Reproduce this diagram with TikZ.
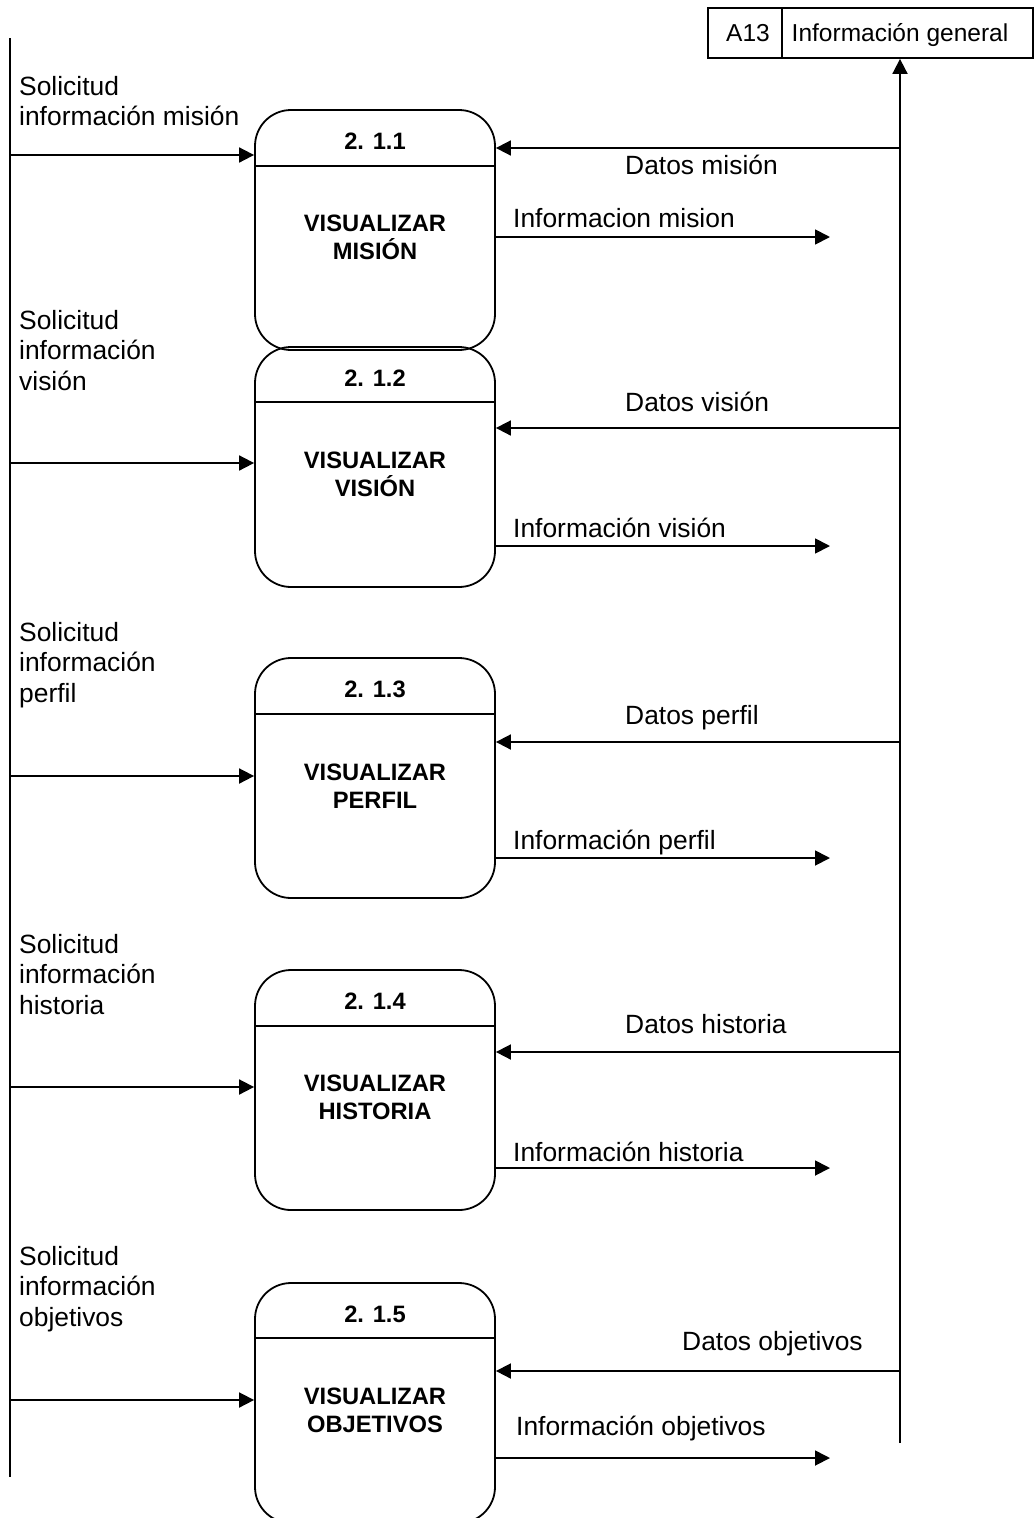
\documentclass[tikz,border=0pt]{standalone}
\usepackage{fontspec}
\setmainfont{Liberation Sans}
\usetikzlibrary{arrows.meta}
\tikzset{
  ln/.style={line width=1.8pt},
  arr/.style={ln, -{Triangle[length=15pt,width=15pt]}},
  proc/.style={ln, draw, rounded corners=36pt, minimum width=240pt, minimum height=240pt, inner sep=0pt},
  store/.style={ln, draw, minimum height=50pt, inner sep=0pt},
  storetext/.style={inner sep=0pt, anchor=base, font=\fontsize{24.5}{29}\selectfont},
  lbl/.style={inner sep=0pt, anchor=base west, align=left, font=\fontsize{26.4}{30.5}\selectfont},
  ptitle/.style={inner sep=0pt, anchor=base, font=\fontsize{23.7}{27.5}\selectfont\bfseries},
  pbody/.style={inner sep=0pt, anchor=base, align=center, font=\fontsize{23.7}{27.7}\selectfont\bfseries},
}
\begin{document}
\begin{tikzpicture}[x=1pt,y=-1pt]
\useasboundingbox (0,0) rectangle (1034,1518);
\clip (0,0) rectangle (1034,1518);

% data store
\node[store, minimum width=74pt] (s1) at (745,33) {};
\node[store, minimum width=251pt] (s2) at (907.5,33) {};
\node[storetext] (s1t) at (748,41) {A13};
\node[storetext] (s2t) at (900,41) {Información general};

% vertical lines
\coordinate (Ltop) at (10,38);
\coordinate (Lbot) at (10,1477);
\coordinate (Rbot) at (900,1443);
\draw[ln] (Ltop) -- (Lbot);
\draw[arr] (Rbot) -- (Rbot |- s2.south);

% process boxes
\node[proc] (b1) at (375,230) {};
\node[proc] (b2) at (375,467) {};
\node[proc] (b3) at (375,778) {};
\node[proc] (b4) at (375,1090) {};
\node[proc] (b5) at (375,1403) {};

% dividers
\draw[ln] (b1.west |- 0,166) -- (b1.east |- 0,166);
\draw[ln] (b2.west |- 0,402) -- (b2.east |- 0,402);
\draw[ln] (b3.west |- 0,714) -- (b3.east |- 0,714);
\draw[ln] (b4.west |- 0,1026) -- (b4.east |- 0,1026);
\draw[ln] (b5.west |- 0,1338) -- (b5.east |- 0,1338);

% titles
\node[ptitle] (t1) at (375,149) {2. 1.1};
\node[ptitle] (t2) at (375,386) {2. 1.2};
\node[ptitle] (t3) at (375,697) {2. 1.3};
\node[ptitle] (t4) at (375,1009) {2. 1.4};
\node[ptitle] (t5) at (375,1322) {2. 1.5};

% body text (anchor = baseline of last line)
\node[pbody] (n1) at (375,259) {VISUALIZAR\\MISIÓN};
\node[pbody] (n2) at (375,496) {VISUALIZAR\\VISIÓN};
\node[pbody] (n3) at (375,808) {VISUALIZAR\\PERFIL};
\node[pbody] (n4) at (375,1119) {VISUALIZAR\\HISTORIA};
\node[pbody] (n5) at (375,1432) {VISUALIZAR\\OBJETIVOS};

% input flows
\coordinate (L1) at (10,155);
\coordinate (L2) at (10,463);
\coordinate (L3) at (10,776);
\coordinate (L4) at (10,1087);
\coordinate (L5) at (10,1400);
\draw[arr] (L1) -- (L1 -| b1.west);
\draw[arr] (L2) -- (L2 -| b2.west);
\draw[arr] (L3) -- (L3 -| b3.west);
\draw[arr] (L4) -- (L4 -| b4.west);
\draw[arr] (L5) -- (L5 -| b5.west);

\node[lbl] (li1) at (19,125.5) {Solicitud\\información misión};
\node[lbl] (li2) at (19,390) {Solicitud\\información\\visión};
\node[lbl] (li3) at (19,702) {Solicitud\\información\\perfil};
\node[lbl] (li4) at (19,1014) {Solicitud\\información\\historia};
\node[lbl] (li5) at (19,1326) {Solicitud\\información\\objetivos};

% data flows from store
\coordinate (D1) at (900,148);
\coordinate (D2) at (900,428);
\coordinate (D3) at (900,742);
\coordinate (D4) at (900,1052);
\coordinate (D5) at (900,1371);
\draw[arr] (D1) -- (D1 -| b1.east);
\draw[arr] (D2) -- (D2 -| b2.east);
\draw[arr] (D3) -- (D3 -| b3.east);
\draw[arr] (D4) -- (D4 -| b4.east);
\draw[arr] (D5) -- (D5 -| b5.east);

\node[lbl] (ld1) at (625,174) {Datos misión};
\node[lbl] (ld2) at (625,411) {Datos visión};
\node[lbl] (ld3) at (625,724) {Datos perfil};
\node[lbl] (ld4) at (625,1033) {Datos historia};
\node[lbl] (ld5) at (682,1350) {Datos objetivos};

% output flows
\coordinate (I1) at (830,237);
\coordinate (I2) at (830,546);
\coordinate (I3) at (830,858);
\coordinate (I4) at (830,1168);
\coordinate (I5) at (830,1458);
\draw[arr] (I1 -| b1.east) -- (I1);
\draw[arr] (I2 -| b2.east) -- (I2);
\draw[arr] (I3 -| b3.east) -- (I3);
\draw[arr] (I4 -| b4.east) -- (I4);
\draw[arr] (I5 -| b5.east) -- (I5);

\node[lbl] (lo1) at (513,227) {Informacion mision};
\node[lbl] (lo2) at (513,537) {Información visión};
\node[lbl] (lo3) at (513,849) {Información perfil};
\node[lbl] (lo4) at (513,1161) {Información historia};
\node[lbl] (lo5) at (516,1435) {Información objetivos};
\end{tikzpicture}
\end{document}
